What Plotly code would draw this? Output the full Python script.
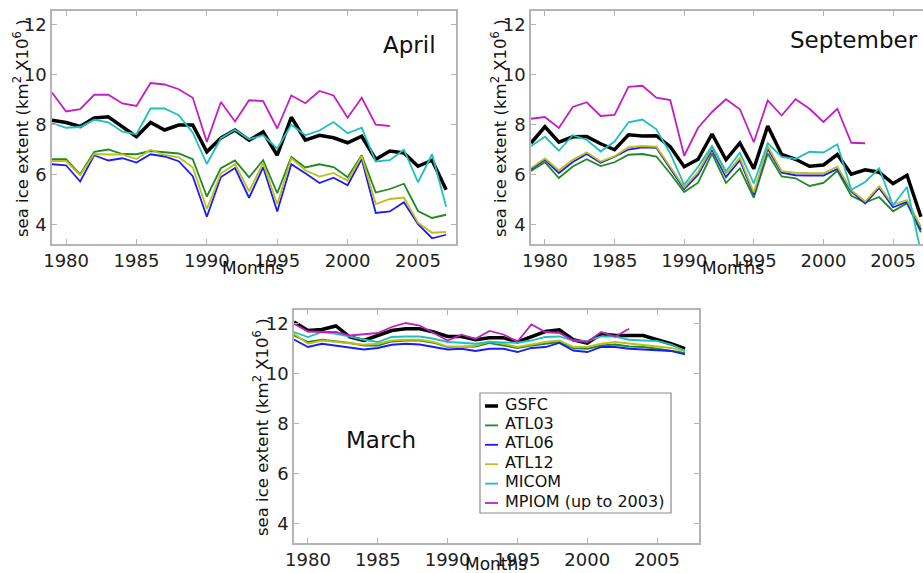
import plotly.graph_objects as go

years = list(range(1979, 2008))
years_mpiom = list(range(1979, 2004))
series_names = ["GSFC", "ATL03", "ATL06", "ATL12", "MICOM", "MPIOM (up to 2003)"]

# ---- April ----
apr_gsfc = [8.18, 8.09, 7.93, 8.27, 8.32, 7.92, 7.52, 8.09, 7.79, 7.99, 7.99, 6.92, 7.47, 7.79, 7.38, 7.71,
            6.78, 8.3, 7.38, 7.58, 7.48, 7.28, 7.54, 6.62, 6.95, 6.87, 6.34, 6.58, 5.4]
apr_atl03 = [6.62, 6.62, 6.02, 6.92, 7.01, 6.83, 6.82, 6.95, 6.9, 6.85, 6.62, 5.13, 6.26, 6.57, 5.9, 6.58,
             5.26, 6.71, 6.29, 6.42, 6.31, 5.9, 6.78, 5.29, 5.43, 5.64, 4.55, 4.27, 4.4]
apr_atl06 = [6.42, 6.38, 5.73, 6.78, 6.57, 6.66, 6.49, 6.82, 6.73, 6.54, 5.94, 4.32, 5.91, 6.27, 5.08, 6.3,
             4.53, 6.42, 6.06, 5.67, 5.88, 5.58, 6.63, 4.47, 4.53, 4.9, 4.02, 3.46, 3.6]
apr_atl12 = [6.55, 6.55, 5.98, 6.83, 6.81, 6.81, 6.63, 7.0, 6.79, 6.7, 6.3, 4.63, 6.05, 6.43, 5.34, 6.46,
             4.82, 6.66, 6.18, 5.93, 6.07, 5.76, 6.74, 4.83, 5.03, 5.09, 4.08, 3.68, 3.71]
apr_micom = [8.07, 7.88, 7.91, 8.2, 8.1, 7.72, 7.62, 8.65, 8.65, 8.38, 7.68, 6.43, 7.46, 7.8, 7.42, 7.58,
             7.05, 8.0, 7.58, 7.77, 8.11, 7.66, 7.88, 6.53, 6.58, 7.0, 5.7, 6.82, 4.72]
apr_mpiom = [9.29, 8.53, 8.62, 9.2, 9.2, 8.85, 8.75, 9.67, 9.61, 9.42, 9.08, 7.31, 8.91, 8.13, 8.98, 8.95,
             7.85, 9.17, 8.86, 9.35, 9.17, 8.28, 9.08, 8.0, 7.95]

# ---- September ----
sep_gsfc = [7.27, 7.92, 7.3, 7.52, 7.53, 7.24, 7.0, 7.6, 7.55, 7.56, 7.12, 6.32, 6.62, 7.63, 6.6, 7.27,
            6.24, 7.95, 6.81, 6.62, 6.34, 6.39, 6.81, 6.02, 6.2, 6.1, 5.65, 5.98, 4.32]
sep_atl03 = [6.15, 6.5, 5.87, 6.33, 6.62, 6.35, 6.5, 6.8, 6.83, 6.73, 6.05, 5.31, 5.68, 6.85, 5.67, 6.25,
             5.08, 6.85, 5.93, 5.86, 5.55, 5.67, 6.16, 5.16, 4.89, 5.11, 4.54, 4.86, 3.7]
sep_atl06 = [6.22, 6.6, 6.07, 6.51, 6.83, 6.48, 6.72, 7.01, 7.1, 7.08, 6.25, 5.43, 6.0, 7.01, 5.91, 6.58,
             5.21, 7.04, 6.08, 5.98, 5.97, 5.97, 6.23, 5.33, 4.85, 5.47, 4.7, 4.91, 3.8]
sep_atl12 = [6.27, 6.65, 6.18, 6.6, 6.9, 6.53, 6.74, 7.1, 7.15, 7.12, 6.32, 5.5, 6.11, 7.1, 6.03, 6.68,
             5.29, 7.14, 6.14, 6.08, 6.06, 6.06, 6.32, 5.38, 4.93, 5.54, 4.81, 4.99, 3.92]
sep_micom = [7.15, 7.52, 6.96, 7.58, 7.4, 6.93, 7.33, 8.1, 8.21, 7.82, 6.85, 5.6, 6.32, 7.15, 6.14, 6.88,
             5.65, 7.26, 6.71, 6.63, 6.92, 6.89, 7.22, 5.4, 5.71, 6.26, 4.78, 5.51, 2.9]
sep_mpiom = [8.24, 8.31, 7.87, 8.71, 8.9, 8.35, 8.39, 9.52, 9.56, 9.08, 8.99, 6.76, 7.88, 8.51, 9.02, 8.62,
             7.3, 8.97, 8.37, 9.02, 8.64, 8.11, 8.64, 7.28, 7.26]

# ---- March ----
mar_gsfc = [12.07, 11.73, 11.77, 11.91, 11.47, 11.33, 11.53, 11.73, 11.8, 11.8, 11.67, 11.49, 11.49, 11.36,
            11.44, 11.44, 11.27, 11.49, 11.69, 11.76, 11.36, 11.23, 11.6, 11.53, 11.53, 11.53, 11.36, 11.2, 11.0]
mar_atl03 = [11.53, 11.27, 11.36, 11.31, 11.23, 11.13, 11.13, 11.29, 11.33, 11.33, 11.24, 11.07, 11.07, 11.09,
             11.23, 11.13, 11.03, 11.13, 11.2, 11.27, 11.03, 11.0, 11.13, 11.17, 11.09, 11.07, 11.0, 10.93, 10.83]
mar_atl06 = [11.37, 11.07, 11.2, 11.13, 11.03, 10.97, 11.03, 11.16, 11.2, 11.17, 11.07, 10.97, 11.0, 10.91,
             11.0, 11.0, 10.87, 11.03, 11.07, 11.23, 10.93, 10.87, 11.07, 11.07, 11.0, 10.97, 10.96, 10.91, 10.77]
mar_atl12 = [11.6, 11.2, 11.33, 11.27, 11.2, 11.16, 11.2, 11.33, 11.36, 11.36, 11.27, 11.09, 11.07, 11.13,
             11.29, 11.2, 11.07, 11.17, 11.27, 11.33, 11.07, 11.07, 11.2, 11.27, 11.2, 11.16, 11.09, 11.03, 10.89]
mar_micom = [11.67, 11.47, 11.67, 11.6, 11.49, 11.36, 11.27, 11.47, 11.49, 11.49, 11.4, 11.27, 11.24, 11.2,
             11.27, 11.27, 11.24, 11.33, 11.47, 11.49, 11.33, 11.31, 11.49, 11.49, 11.36, 11.33, 11.31, 11.17, 10.93]
mar_mpiom = [12.0, 11.69, 11.67, 11.67, 11.53, 11.57, 11.63, 11.87, 12.03, 11.93, 11.63, 11.33, 11.56, 11.4,
             11.71, 11.57, 11.29, 11.97, 11.67, 11.63, 11.33, 11.27, 11.67, 11.49, 11.8]

colors = ["#000000", "#1f8a1f", "#1a1aff", "#bfbf1a", "#1fbfbf", "#c21fc2"]
widths = [3.5, 1.8, 1.8, 1.8, 1.8, 1.8]

panels = [
    ("x", "y", [apr_gsfc, apr_atl03, apr_atl06, apr_atl12, apr_micom, apr_mpiom]),
    ("x2", "y2", [sep_gsfc, sep_atl03, sep_atl06, sep_atl12, sep_micom, sep_mpiom]),
    ("x3", "y3", [mar_gsfc, mar_atl03, mar_atl06, mar_atl12, mar_micom, mar_mpiom]),
]

fig = go.Figure()
for xa, ya, data in panels:
    for i, (name, vals) in enumerate(zip(series_names, data)):
        xs = years_mpiom if i == 5 else years
        fig.add_trace(go.Scatter(
            x=xs, y=vals, mode="lines", name=name, xaxis=xa, yaxis=ya,
            line=dict(color=colors[i], width=widths[i]),
            showlegend=False, legendgroup=name,
        ))

W, H = 923, 573
def px(a, b):
    return [a / W, b / W]
def py(top, bottom):
    return [1 - bottom / H, 1 - top / H]

FONT = "DejaVu Sans"
frame = "#b4b4b4"
common_x = dict(showgrid=False, zeroline=False, showline=True, linecolor=frame, linewidth=1.5,
                ticks="inside", ticklen=5, tickcolor=frame, tickvals=[1980, 1985, 1990, 1995, 2000, 2005],
                tickfont=dict(family=FONT, size=18, color="#222"), automargin=False)
common_y = dict(showgrid=False, zeroline=False, showline=True, linecolor=frame, linewidth=1.5,
                ticks="inside", ticklen=5, tickcolor=frame, tickvals=[4, 6, 8, 10, 12],
                tickfont=dict(family=FONT, size=18, color="#222"), range=[3.23, 12.55], automargin=False)

fig.update_layout(
    width=W, height=H, margin=dict(l=0, r=0, t=0, b=0),
    paper_bgcolor="white", plot_bgcolor="white",
    font=dict(family=FONT, color="#222"),
    showlegend=False,
    xaxis=dict(common_x, domain=px(52, 456), range=[1979, 2007.7], anchor="y", mirror="ticks"),
    yaxis=dict(common_y, domain=py(11, 244), anchor="x", mirror="ticks"),
    xaxis2=dict(common_x, domain=px(531, 923), range=[1979, 2007.15], anchor="y2", mirror="ticks"),
    yaxis2=dict(common_y, domain=py(11, 244), anchor="x2", mirror=False),
    xaxis3=dict(common_x, domain=px(294, 699), range=[1979, 2008], anchor="y3", mirror="ticks"),
    yaxis3=dict(common_y, domain=py(310, 543), anchor="x3", mirror="ticks"),
)

ytitle = "sea ice extent (km<sup>2</sup> X10<sup>6</sup> )"
ann = [
    dict(text="April", x=409 / W, y=1 - 45 / H, size=23),
    dict(text="September", x=854 / W, y=1 - 40 / H, size=23),
    dict(text="March", x=381 / W, y=1 - 440 / H, size=23),
    dict(text="Months", x=253 / W, y=1 - 268 / H, size=17),
    dict(text="Months", x=733 / W, y=1 - 268 / H, size=17),
    dict(text="Months", x=496 / W, y=1 - 564 / H, size=17),
    dict(text=ytitle, x=21 / W, y=1 - 128 / H, textangle=-90, size=16.5),
    dict(text=ytitle, x=499 / W, y=1 - 128 / H, textangle=-90, size=16.5),
    dict(text=ytitle, x=261 / W, y=1 - 427 / H, textangle=-90, size=16.5),
]
for a in ann:
    size = a.pop("size")
    fig.add_annotation(xref="paper", yref="paper", showarrow=False, xanchor="center", yanchor="middle",
                       **a, font=dict(family=FONT, color="#111", size=size))

# Legend box drawn inside the March panel (reference layout)
leg_left, leg_right, leg_top, leg_bottom = 480, 671, 393, 513
fig.add_shape(type="rect", xref="paper", yref="paper",
              x0=leg_left / W, x1=leg_right / W, y0=1 - leg_bottom / H, y1=1 - leg_top / H,
              line=dict(color="#8c8c8c", width=1.2), fillcolor="white", layer="above")
for i, name in enumerate(series_names):
    yc = 404 + i * 19.4
    fig.add_shape(type="line", xref="paper", yref="paper",
                  x0=485 / W, x1=498 / W, y0=1 - (yc + 2) / H, y1=1 - (yc + 2) / H,
                  line=dict(color=colors[i], width=widths[i]), layer="above")
    fig.add_annotation(xref="paper", yref="paper", showarrow=False, xanchor="left", yanchor="middle",
                       x=503 / W, y=1 - yc / H, text=name,
                       font=dict(family=FONT, color="#111", size=16))

fig.write_html("out.html")
